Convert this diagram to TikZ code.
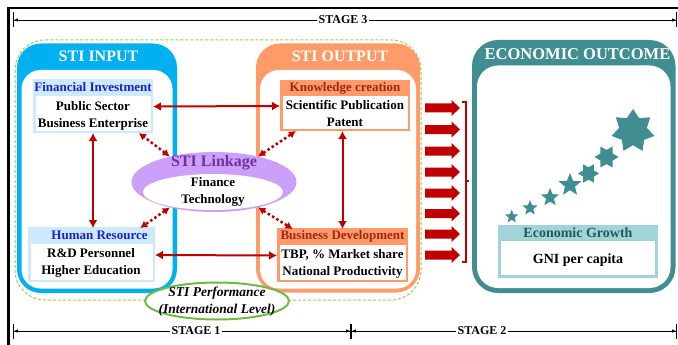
\documentclass[tikz,border=0pt]{standalone}
\usepackage{fontspec}
\setmainfont{Liberation Serif}
\usetikzlibrary{arrows.meta,shapes.geometric,calc}
\definecolor{inblue}{RGB}{0,176,240}
\definecolor{lblue}{RGB}{204,234,252}
\definecolor{tblue}{RGB}{30,30,210}
\definecolor{outor}{RGB}{255,155,105}
\definecolor{dred}{RGB}{192,0,0}
\definecolor{kred}{RGB}{165,35,25}
\definecolor{ecoteal}{RGB}{64,142,146}
\definecolor{lteal}{RGB}{160,212,216}
\definecolor{gteal}{RGB}{40,85,90}
\definecolor{lpurple}{RGB}{204,160,250}
\definecolor{tpurple}{RGB}{112,48,160}
\definecolor{dgreen}{RGB}{146,208,80}
\definecolor{egreen}{RGB}{112,185,70}
\begin{document}
\begin{tikzpicture}[x=1pt,y=-1pt,
  font=\fontsize{13}{17}\selectfont\bfseries,
  txt/.style={inner sep=0pt, align=center},
  hdr/.style={inner sep=0pt, minimum height=17pt, anchor=north, yshift=1.25pt},
  ibox/.style={line width=2.5pt, fill=white, inner sep=0pt},
  title/.style={text=white, inner sep=0pt, font=\fontsize{16}{18}\selectfont\bfseries},
  redarr/.style={dred, line width=2pt, {Latex[length=8pt,width=9pt]}-{Latex[length=8pt,width=9pt]}},
  dotarr/.style={dred, line width=2.5pt, dash pattern=on 2.5pt off 2.5pt, {Latex[length=7pt,width=8pt]}-{Latex[length=7pt,width=8pt]}},
  dimline/.style={line width=0.8pt, {Bar[width=15pt]Latex[length=4pt,width=3.5pt]}-{Latex[length=4pt,width=3.5pt]Bar[width=15pt]}},
  stagelbl/.style={fill=white, inner sep=1.5pt, font=\fontsize{12}{14}\selectfont\bfseries},
  staricon/.style={star, fill=ecoteal, inner sep=0pt}
]
\useasboundingbox (0,0) rectangle (678,345);

% frame
\draw[line width=2.5pt] (8.5,350) -- (8.5,8) -- (682,8);

% stage lines
\coordinate (s3a) at (13,20);
\coordinate (s3b) at (677,20);
\coordinate (s1a) at (13,331);
\coordinate (s1b) at (351,331);
\coordinate (s2b) at (677,331);
\draw[dimline] (s3a) -- (s3b);
\draw[dimline] (s1a) -- (s1b);
\draw[dimline] (s1b) -- (s2b);
\node[stagelbl] (st3) at (343,20) {STAGE 3};
\node[stagelbl] (st1) at (196,331) {STAGE 1};
\node[stagelbl] (st2) at (482,331) {STAGE 2};

% green dashed region
\draw[dgreen, line width=1pt, dash pattern=on 3pt off 2pt, rounded corners=30pt] (15,40) rectangle (421,300);

% big boxes
\fill[inblue, rounded corners=24pt] (17,43.5) rectangle (177,293);
\fill[white, rounded corners=19pt] (21.5,70) rectangle (172.5,288.5);
\fill[outor, rounded corners=24pt] (256,43.5) rectangle (420,292.5);
\fill[white, rounded corners=19pt] (260,70) rectangle (416,288.5);
\fill[ecoteal, rounded corners=26pt] (472,40) rectangle (675.5,293);
\fill[white, rounded corners=21pt] (477,65.5) rectangle (670.5,288);
\node[title] (tin) at (98.5,56) {STI INPUT};
\node[title] (tout) at (340,56) {STI OUTPUT};
\node[title, font=\fontsize{16.5}{18}\selectfont\bfseries] (teco) at (577.5,54) {ECONOMIC OUTCOME};

% inner boxes
\node[ibox, draw=lblue, minimum width=117.5pt, minimum height=50.5pt] (fin) at (93,106.5) {};
\node[hdr, fill=lblue, minimum width=120pt, text=tblue] (finh) at (fin.north) {Financial Investment};
\node[txt] (finb) at (93,116) {Public Sector\\Business Enterprise};

\node[ibox, draw=lblue, minimum width=124.5pt, minimum height=51.5pt] (hum) at (91.5,255) {};
\node[hdr, fill=lblue, minimum width=127pt, text=tblue] (humh) at (hum.north) {\hspace*{16pt}Human Resource};
\node[txt] (humb) at (91,263) {R\&D Personnel\\Higher Education};

\node[ibox, draw=outor, minimum width=127.5pt, minimum height=47.5pt] (know) at (345,106) {};
\node[hdr, fill=outor, minimum width=130pt, minimum height=16pt, text=kred] (knowh) at (know.north) {Knowledge creation};
\node[txt] (knowb) at (345,113) {Scientific Publication\\Patent};

\node[ibox, draw=outor, minimum width=128.5pt, minimum height=50.5pt] (bus) at (342.5,255.5) {};
\node[hdr, fill=outor, minimum width=131pt, text=kred] (bush) at (bus.north) {Business Development};
\node[txt] (busb) at (342.5,264) {TBP, \% Market share\\National Productivity};

\node[ibox, draw=lteal, line width=3pt, minimum width=157pt, minimum height=49pt] (eg) at (578,252) {};
\node[hdr, fill=lteal, minimum width=160pt, minimum height=16pt, yshift=0.25pt, text=gteal, font=\fontsize{14}{17}\selectfont\bfseries] (egh) at (eg.north) {Economic Growth};
\node[txt, font=\fontsize{14}{17}\selectfont\bfseries] (egb) at (578,260) {GNI per capita};

% solid arrows
\draw[redarr] (fin.east) -- (know.west);
\draw[redarr] (hum.east) -- (bus.west);
\draw[redarr] (fin.south) -- (fin.south |- hum.north);
\draw[redarr] (bus.north |- know.south) -- (bus.north);

% linkage ellipse
\node[ellipse, fill=lpurple, minimum width=165pt, minimum height=60pt, inner sep=0pt] (link) at (214,182) {};
\node[ellipse, fill=white, minimum width=140pt, minimum height=36pt, inner sep=0pt] (linkin) at (213,192) {};
\node[text=tpurple, inner sep=0pt, font=\fontsize{16}{18}\selectfont\bfseries] (linkt) at (214,163) {STI Linkage};
\node[txt] (linkb) at (213,191.5) {Finance\\Technology};

% dotted arrows
\draw[dotarr] (link.150) -- (fin.-30);
\draw[dotarr] (link.30) -- (know.-153);
\draw[dotarr] (link.-150) -- (hum.29);
\draw[dotarr] (link.-30) -- (bus.152);

% performance ellipse
\node[ellipse, draw=egreen, line width=2pt, fill=white, minimum width=144pt, minimum height=37pt, inner sep=0pt] (perf) at (217,301) {};
\node[txt, font=\fontsize{13.5}{17}\selectfont\bfseries\itshape] (perft) at (217,301.5) {STI Performance\\(International Level)};

% block arrows
\foreach \yy in {108,129.5,151,172,193,213.5,234,255}{
  \fill[dred] (425,\yy-4.5) -- (451.5,\yy-4.5) -- (451.5,\yy-8) -- (460,\yy) -- (451.5,\yy+8) -- (451.5,\yy+4.5) -- (425,\yy+4.5) -- cycle;
}
% bracket
\draw[dred, line width=1.2pt] (461.5,102) -- (466,102) -- (466,262) -- (461.5,262);
\draw[dred, line width=1.2pt] (466,181) -- (469,181);

% stars
\node[staricon, star points=5, star point ratio=2.3, minimum size=14pt] (sa) at (511.7,216.7) {};
\node[staricon, star points=5, star point ratio=2.3, minimum size=16pt] (sb) at (530,208) {};
\node[staricon, star points=5, star point ratio=2.3, minimum size=19pt] (sc) at (550,197.5) {};
\node[staricon, star points=5, star point ratio=2.3, minimum size=24pt] (sd) at (570,185) {};
\node[staricon, star points=6, star point ratio=1.7, minimum size=21pt, rotate=90] (se) at (588.5,173.5) {};
\node[staricon, star points=6, star point ratio=1.7, minimum size=24pt, rotate=90] (sf) at (606.5,157) {};
\node[staricon, star points=7, star point ratio=1.55, minimum size=44pt] (sg) at (633,131) {};
\end{tikzpicture}
\end{document}
